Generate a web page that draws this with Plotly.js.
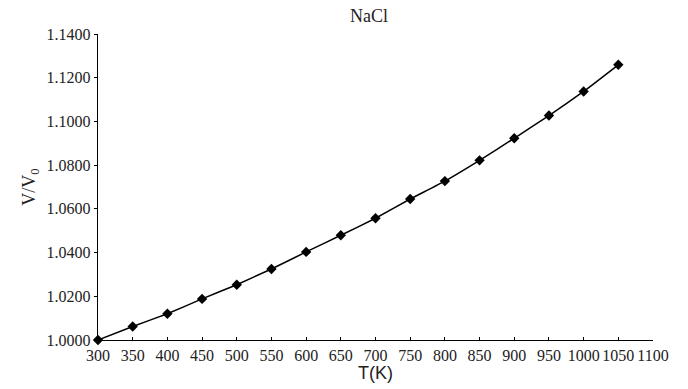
<!DOCTYPE html>
<html>
<head>
<meta charset="utf-8">
<script src="https://cdn.plot.ly/plotly-3.0.1.min.js"></script>
<style>html,body{margin:0;padding:0;background:#fff;}#chart{width:688px;height:389px;}</style>
</head>
<body>
<div id="chart"></div>
<script>
const temperatureK = [300, 350, 400, 450, 500, 550, 600, 650, 700, 750, 800, 850, 900, 950, 1000, 1050];
const volumeRatio = [1.0000, 1.0062, 1.0120, 1.0188, 1.0253, 1.0325, 1.0403, 1.0479, 1.0557, 1.0645, 1.0727, 1.0822, 1.0923, 1.1027, 1.1137, 1.1259];
const xTickVals = [300, 350, 400, 450, 500, 550, 600, 650, 700, 750, 800, 850, 900, 950, 1000, 1050, 1100];
const yTickVals = [1.0, 1.02, 1.04, 1.06, 1.08, 1.10, 1.12, 1.14];

const serif = 'Liberation Serif, Times New Roman, serif';
const sans = 'Liberation Sans, Arial, sans-serif';

Plotly.newPlot('chart', [{
  x: temperatureK,
  y: volumeRatio,
  type: 'scatter',
  mode: 'lines+markers',
  line: {color: '#000', width: 1.5, shape: 'spline', smoothing: 0.3},
  marker: {symbol: 'diamond', size: 8, color: '#000'},
  cliponaxis: false,
  showlegend: false
}], {
  width: 688, height: 389,
  margin: {l: 98, r: 35, t: 34, b: 49},
  paper_bgcolor: '#fff', plot_bgcolor: '#fff',
  title: {text: 'NaCl', font: {family: serif, size: 18, color: '#222'}, x: 369/688, xanchor: 'center', y: 1 - 16/389, yanchor: 'middle'},
  xaxis: {
    range: [300, 1100], tickvals: xTickVals, ticktext: xTickVals.map(String), tickangle: 0,
    showgrid: false, zeroline: false, showline: true, linecolor: '#000', linewidth: 1.3,
    ticks: 'inside', ticklen: 3, tickcolor: '#000',
    tickfont: {family: serif, size: 16, color: '#222'},
    title: {text: 'T(K)', font: {family: sans, size: 18, color: '#222'}, standoff: 0}
  },
  yaxis: {
    range: [1.0, 1.14], tickvals: yTickVals, ticktext: yTickVals.map(v => v.toFixed(4)),
    showgrid: false, zeroline: false, showline: true, linecolor: '#000', linewidth: 1.3,
    ticks: 'outside', ticklen: 3, tickcolor: '#000',
    tickfont: {family: serif, size: 16, color: '#222'},
    title: {text: 'V/V<sub>0</sub>', font: {family: serif, size: 18, color: '#222'}, standoff: 6}
  }
}, {staticPlot: true});
</script>
</body>
</html>
